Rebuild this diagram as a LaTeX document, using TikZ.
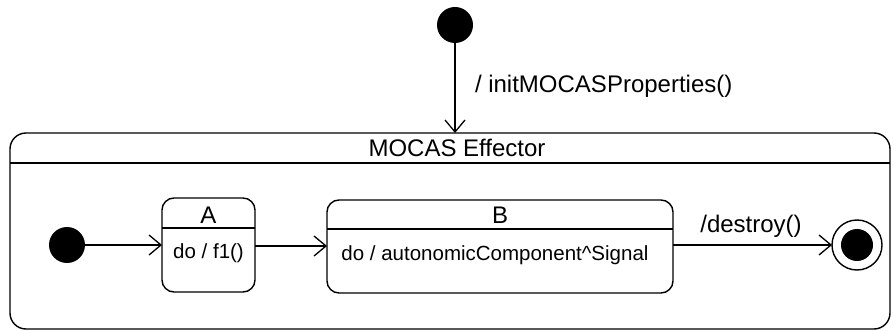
\documentclass[tikz,border=0pt]{standalone}
\usepackage{fontspec}
\setmainfont{Liberation Sans}
\usetikzlibrary{arrows.meta}
\begin{document}
\begin{tikzpicture}[x=1pt,y=-1pt,
  every node/.style={inner sep=0pt,outer sep=0pt},
  line/.style={line width=1.4pt,black},
  arr/.style={line width=1.3pt,-{Straight Barb[length=12pt,width=20pt,line width=1.3pt]}},
  statebox/.style={draw,line width=1.4pt,rounded corners=12pt,rectangle},
  big/.style={font=\fontsize{24}{28}\selectfont},
  small/.style={font=\fontsize{20.5}{24}\selectfont},
  dot/.style={circle,fill=black,minimum size=36pt}]
\useasboundingbox (0,0) rectangle (894,331);
% outer composite state
\node[statebox,rounded corners=16pt,minimum width=880pt,minimum height=196pt] (outer) at (450,231) {};
\draw[line] (outer.west |- 0,163) -- (outer.east |- 0,163);
\node[big] (otitle) at (457,148) {MOCAS Effector};
% top initial
\node[dot] (init) at (455,25) {};
\node[big,anchor=west] (initlbl) at (475,86) {/ initMOCASProperties()};
\draw[arr] (init) -- (init |- outer.north);
% inner initial
\node[dot] (iinit) at (67,245) {};
% state A
\node[statebox,minimum width=93pt,minimum height=94pt] (A) at (208.5,245) {};
\draw[line] (A.west |- 0,228) -- (A.east |- 0,228);
\node[big] (Aname) at (208.5,215) {A};
\node[small] (Ado) at (208.5,253) {do / f1()};
% state B
\node[statebox,minimum width=346pt,minimum height=93pt] (B) at (500,246.5) {};
\draw[line] (B.west |- 0,229) -- (B.east |- 0,229);
\node[big] (Bname) at (500,215) {B};
\node[small] (Bdo) at (495,255) {do / autonomicComponent\textasciicircum Signal};
% final state
\node[circle,draw,line width=1.4pt,minimum size=50pt] (final) at (857,245) {};
\node[circle,fill=black,minimum size=32pt] (finalin) at (857,245) {};
% transitions
\draw[arr] (iinit) -- (A.west |- iinit);
\draw[arr] (A.east |- 0,246) -- (B.west |- 0,246);
\draw[arr] (B.east |- final) -- (final.west);
\node[big] (dlbl) at (751,226) {/destroy()};
\end{tikzpicture}
\end{document}
